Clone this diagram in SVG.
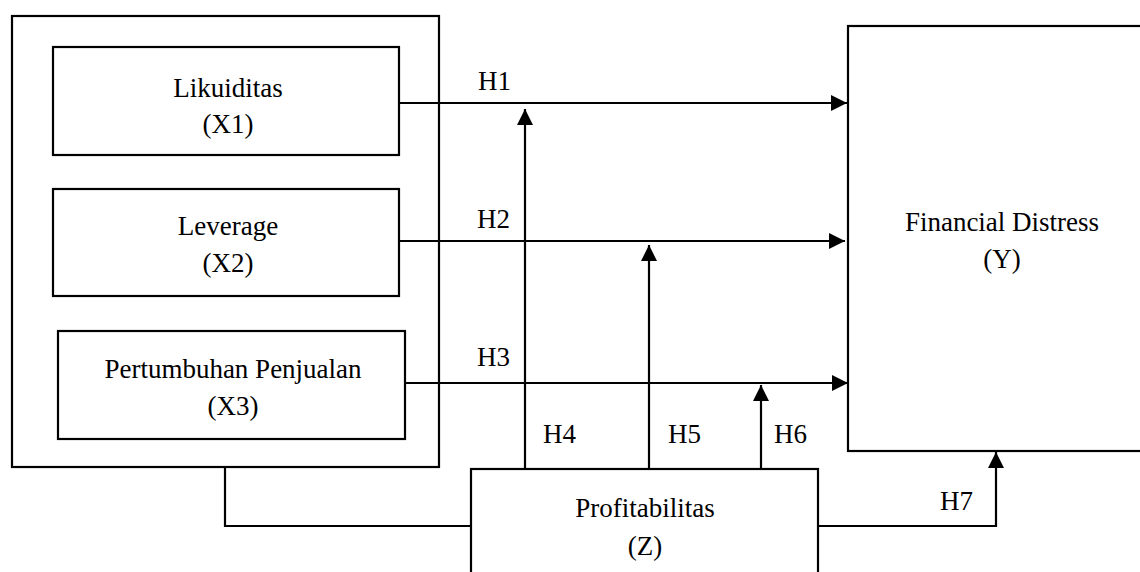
<svg xmlns="http://www.w3.org/2000/svg" width="1140" height="572" viewBox="0 0 1140 572">
<style>
.box{fill:#fff;stroke:#000;stroke-width:2.2}
.ln{fill:none;stroke:#000;stroke-width:2.2}
text{font-family:"Liberation Serif","Times New Roman",serif;font-size:27px;fill:#000}
.c{text-anchor:middle}
</style>
<defs>
<marker id="ah" viewBox="0 0 16 16" refX="16" refY="8" markerWidth="16" markerHeight="16" markerUnits="userSpaceOnUse" orient="auto">
<path d="M0,0 L16,8 L0,16 Z" fill="#000"/>
</marker>
</defs>
<rect width="1140" height="572" fill="#fff"/>
<g id="group-x">
<rect class="box" x="12" y="16" width="427" height="451"/>
</g>
<g id="node-x1">
<rect class="box" x="53" y="47" width="346" height="108"/>
<text class="c" x="228" y="97">Likuiditas</text>
<text class="c" x="228" y="133">(X1)</text>
</g>
<g id="node-x2">
<rect class="box" x="53" y="189" width="346" height="107"/>
<text class="c" x="228" y="235">Leverage</text>
<text class="c" x="228" y="272">(X2)</text>
</g>
<g id="node-x3">
<rect class="box" x="58" y="331" width="347" height="108"/>
<text class="c" x="233" y="378">Pertumbuhan Penjualan</text>
<text class="c" x="233" y="415">(X3)</text>
</g>
<g id="node-y">
<rect class="box" x="848" y="26" width="310" height="425"/>
<text class="c" x="1002" y="231">Financial Distress</text>
<text class="c" x="1002" y="268">(Y)</text>
</g>
<g id="node-z">
<rect class="box" x="471" y="469" width="347" height="120"/>
<text class="c" x="645" y="517">Profitabilitas</text>
<text class="c" x="645" y="555">(Z)</text>
</g>
<g id="connectors">
<line class="ln" x1="399" y1="103" x2="847" y2="103" marker-end="url(#ah)"/>
<line class="ln" x1="399" y1="241" x2="845" y2="241" marker-end="url(#ah)"/>
<line class="ln" x1="405" y1="383" x2="848" y2="383" marker-end="url(#ah)"/>
<line class="ln" x1="525" y1="469" x2="525" y2="109" marker-end="url(#ah)"/>
<line class="ln" x1="649" y1="469" x2="649" y2="245" marker-end="url(#ah)"/>
<line class="ln" x1="761" y1="469" x2="761" y2="385" marker-end="url(#ah)"/>
<polyline class="ln" points="225,467 225,526 471,526"/>
<polyline class="ln" points="818,526 996,526 996,452" marker-end="url(#ah)"/>
<text x="478" y="90">H1</text>
<text x="477" y="228">H2</text>
<text x="477" y="366">H3</text>
<text x="543" y="443">H4</text>
<text x="668" y="443">H5</text>
<text x="774" y="443">H6</text>
<text x="940" y="510">H7</text>
</g>
</svg>
